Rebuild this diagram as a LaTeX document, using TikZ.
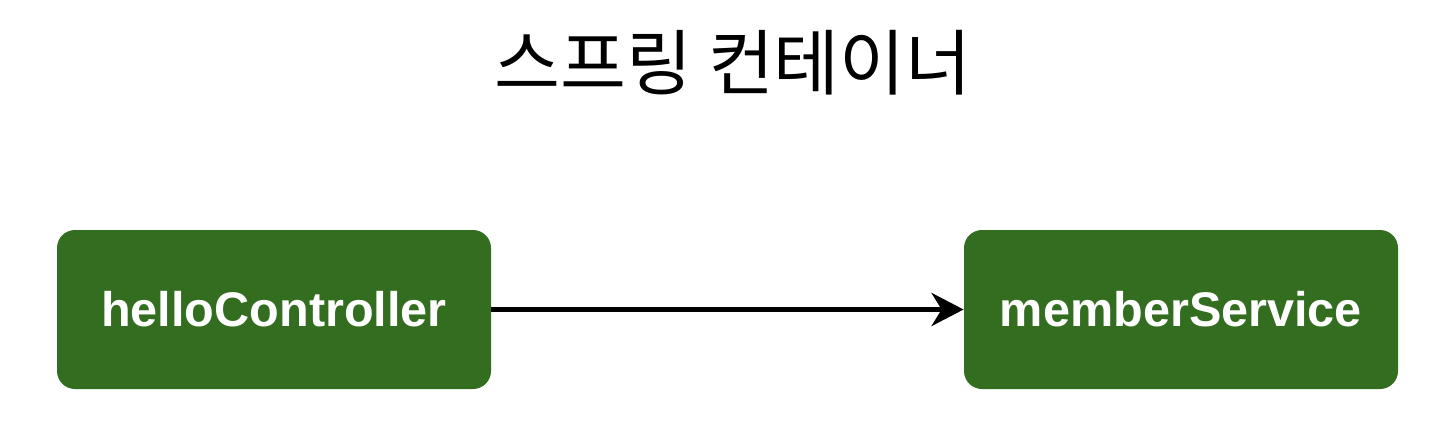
\documentclass[tikz,border=0pt]{standalone}
\usepackage{fontspec}
\setmainfont{Liberation Sans}
\newfontfamily\cjk{Noto Sans CJK KR}
\usepackage{tikz}
\usetikzlibrary{arrows.meta}
\definecolor{beangreen}{RGB}{51,109,32}
\tikzset{bean/.style={rectangle, rounded corners=9pt, fill=beangreen, text=white,
        font=\fontsize{24.3}{28}\selectfont\bfseries, minimum width=217pt, minimum height=79.5pt,
        inner sep=0pt
    }
}

\begin{document}
\begin{tikzpicture}[x=0.5pt, y=-0.5pt]
            \useasboundingbox (0,0) rectangle (1456,430);
            \node[font=\cjk\fontsize{35.8}{40}\selectfont] (title) at (733, 63) {스프링 컨테이너};
            \node[bean] (ctrl) at (274, 309.5) {helloController};
            \node[bean] (svc) at (1181, 309.5) {memberService};
            \draw[line width=2.5pt, -{Stealth[length=16pt, width=16.5pt, inset=5pt]}] (ctrl) to (svc);
        \end{tikzpicture}
\end{document}
